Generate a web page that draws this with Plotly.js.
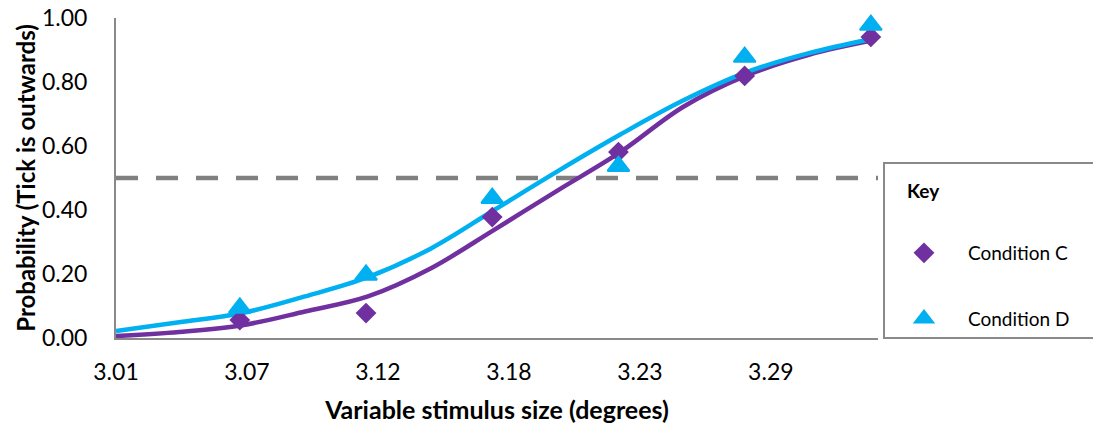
<!DOCTYPE html>
<html>
<head>
<meta charset="utf-8">
<script src="https://cdn.plot.ly/plotly-3.0.1.min.js"></script>
<style>
  html, body { margin: 0; padding: 0; background: #fff; }
  #chart { width: 1093px; height: 430px; }
</style>
</head>
<body>
<div id="chart"></div>
<script>
// ---- Data ----
const stimulusX = [3.062, 3.115, 3.168, 3.221, 3.274, 3.327];
const condC = [0.056, 0.078, 0.378, 0.581, 0.819, 0.941];
const condD = [0.094, 0.197, 0.437, 0.537, 0.878, 0.978];

// fitted psychometric curves
const fitX = [3.010, 3.0365, 3.063, 3.0894, 3.1158, 3.1423, 3.1688, 3.1952, 3.2216, 3.2481, 3.2746, 3.301, 3.3278];
const fitC = [0.006, 0.019, 0.040, 0.083, 0.130, 0.218, 0.338, 0.460, 0.580, 0.722, 0.820, 0.885, 0.930];
const fitD = [0.022, 0.049, 0.078, 0.130, 0.190, 0.280, 0.400, 0.520, 0.635, 0.742, 0.830, 0.890, 0.935];

// 50% threshold reference line
const thresholdX = [3.01, 3.33];
const thresholdY = [0.5, 0.5];

// axis ticks
const xTickVals = [3.01, 3.065, 3.12, 3.175, 3.23, 3.285];
const xTickText = ['3.01', '3.07', '3.12', '3.18', '3.23', '3.29'];
const xRange = [3.01, 3.33];
const yRange = [0, 1];

const PURPLE = '#7030A0';
const BLUE = '#00B0F0';
const GREY = '#898989';
const FONT = 'Lato, "Open Sans", sans-serif';

const traces = [
  { x: thresholdX, y: thresholdY, mode: 'lines', showlegend: false, hoverinfo: 'skip',
    line: { color: '#808080', width: 4.5, dash: '22px,18px' } },
  { x: fitX, y: fitC, mode: 'lines', showlegend: false,
    line: { color: PURPLE, width: 4.5, shape: 'spline', smoothing: 1 } },
  { x: fitX, y: fitD, mode: 'lines', showlegend: false,
    line: { color: BLUE, width: 4.5, shape: 'spline', smoothing: 1 } },
  { x: stimulusX, y: condC, mode: 'markers', name: 'Condition C', legendgroup: 'c',
    marker: { symbol: 'diamond', size: 16, color: PURPLE }, cliponaxis: false },
  { x: stimulusX, y: condD, mode: 'markers', name: 'Condition D', legendgroup: 'd',
    marker: { symbol: 'triangle-up', size: 19, color: BLUE, line: { color: BLUE, width: 2 } }, cliponaxis: false }
];

const layout = {
  width: 1093, height: 430,
  margin: { l: 116, r: 215, t: 18, b: 92, pad: 0 },
  paper_bgcolor: '#fff', plot_bgcolor: '#fff',
  font: { family: FONT, color: '#000' },
  showlegend: true,
  legend: {
    x: 1.0026, y: 0.325, xanchor: 'left', yanchor: 'top',
    bgcolor: 'rgba(0,0,0,0)', borderwidth: 0,
    traceorder: 'grouped', tracegroupgap: 38, itemwidth: 78,
    font: { family: FONT, size: 19, color: '#000' }
  },
  annotations: [
    { text: '<b>Key</b>', xref: 'paper', yref: 'paper', x: 1.0354, y: 0.4625,
      xanchor: 'left', yanchor: 'middle', showarrow: false,
      font: { family: FONT, size: 19, color: '#000' } }
  ],
  xaxis: {
    range: xRange, tickmode: 'array', tickvals: xTickVals, ticktext: xTickText,
    showgrid: false, zeroline: false, showline: true, linecolor: GREY, linewidth: 2,
    ticks: '', ticklabelstandoff: 12,
    tickfont: { family: FONT, size: 23, color: '#000' },
    title: { text: '<b>Variable stimulus size (degrees)</b>', standoff: 18,
             font: { family: FONT, size: 25, color: '#000' } }
  },
  yaxis: {
    range: yRange, tickmode: 'linear', tick0: 0, dtick: 0.2, tickformat: '.2f',
    showgrid: false, zeroline: false, showline: true, linecolor: GREY, linewidth: 2,
    ticks: '', ticklabelstandoff: 22,
    tickfont: { family: FONT, size: 23, color: '#000' },
    title: { text: '<b>Probability (Tick is outwards)</b>', standoff: 0,
             font: { family: FONT, size: 24, color: '#000' } }
  },
  shapes: [
    { type: 'rect', xref: 'paper', yref: 'paper', x0: 1.0079, x1: 1.30, y0: 0.0, y1: 0.547,
      line: { color: GREY, width: 2 }, fillcolor: 'rgba(0,0,0,0)' }
  ]
};

Plotly.newPlot('chart', traces, layout, { displayModeBar: false, staticPlot: true });
</script>
</body>
</html>
